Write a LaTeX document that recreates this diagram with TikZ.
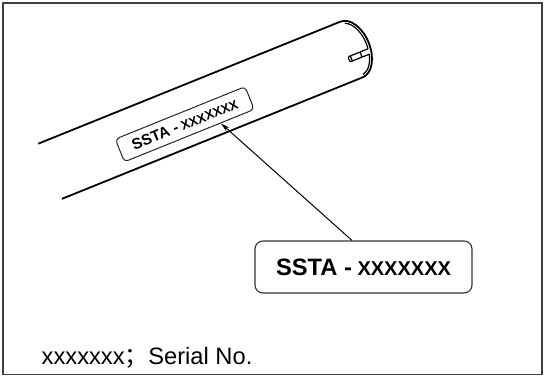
\documentclass[tikz,border=0pt]{standalone}
\usepackage{fontspec}
\setmainfont{Liberation Sans}
\newfontfamily\cjk{Noto Sans CJK SC}
\usetikzlibrary{arrows.meta}
\tikzset{
  frame/.style={draw=black!75, line width=1.6pt},
  tube/.style={draw=black, line width=1.8pt},
  rim/.style={draw=black, line width=1.2pt},
  tag/.style={draw=black!85, line width=1pt, rounded corners=4pt, minimum width=140pt, minimum height=24.5pt, inner sep=0pt},
  bigtag/.style={draw=black!80, line width=1.1pt, rounded corners=8pt, minimum width=217pt, minimum height=52pt, inner sep=0pt},
  leader/.style={draw=black, line width=1pt, -{Stealth[length=9pt,width=5pt]}}
}
\begin{document}
\begin{tikzpicture}[x=1pt,y=1pt]
\useasboundingbox (0,0) rectangle (544,376);
\draw[frame] (3,1.5) rectangle (542,373);
% tube
\begin{scope}[shift={(351.5,326.5)}, rotate=22]
  \draw[tube] (-325.7,30) -- (0,30) arc[start angle=90, end angle=-90, x radius=18.5, y radius=30] -- (-324.5,-30);
  \draw[rim] (77:16 and 27.5) arc[start angle=77, end angle=-11.5, x radius=16, y radius=27.5];
  \draw[rim] (-23.6:16 and 27.5) arc[start angle=-23.6, end angle=-85, x radius=16, y radius=27.5];
  \draw[rim] (7,-5.5) -- (-11.5:16 and 27.5);
  \draw[rim] (7,-11) -- (-23.6:16 and 27.5);
  \draw[rim, rounded corners=1pt] (-6,-11) rectangle (7,-5.5);
  \draw[rim] (-3.5,-11) -- (-3.5,-5.5);
\end{scope}
% small tag on tube
\begin{scope}[shift={(184.75,251.75)}, rotate=22]
  \node[tag, transform shape] (lbl) at (0,0) {\bfseries\fontsize{15.3}{18}\selectfont SSTA -\fontsize{12.9}{15}\selectfont\ XXXXXXX};
  \coordinate (tip) at (34,-13);
\end{scope}
% big tag
\node[bigtag] (big) at (363.5,109) {\bfseries\fontsize{23.7}{28}\selectfont SSTA -\fontsize{20}{24}\selectfont\ XXXXXXX};
\draw[leader] ([xshift=-11.5pt]big.north) -- (tip);
% legend
\node[anchor=base west, inner sep=0pt] (legend) at (41.5,12) {\fontsize{23.7}{28}\selectfont xxxxxxx{\cjk ；}Serial No.};
\end{tikzpicture}
\end{document}
